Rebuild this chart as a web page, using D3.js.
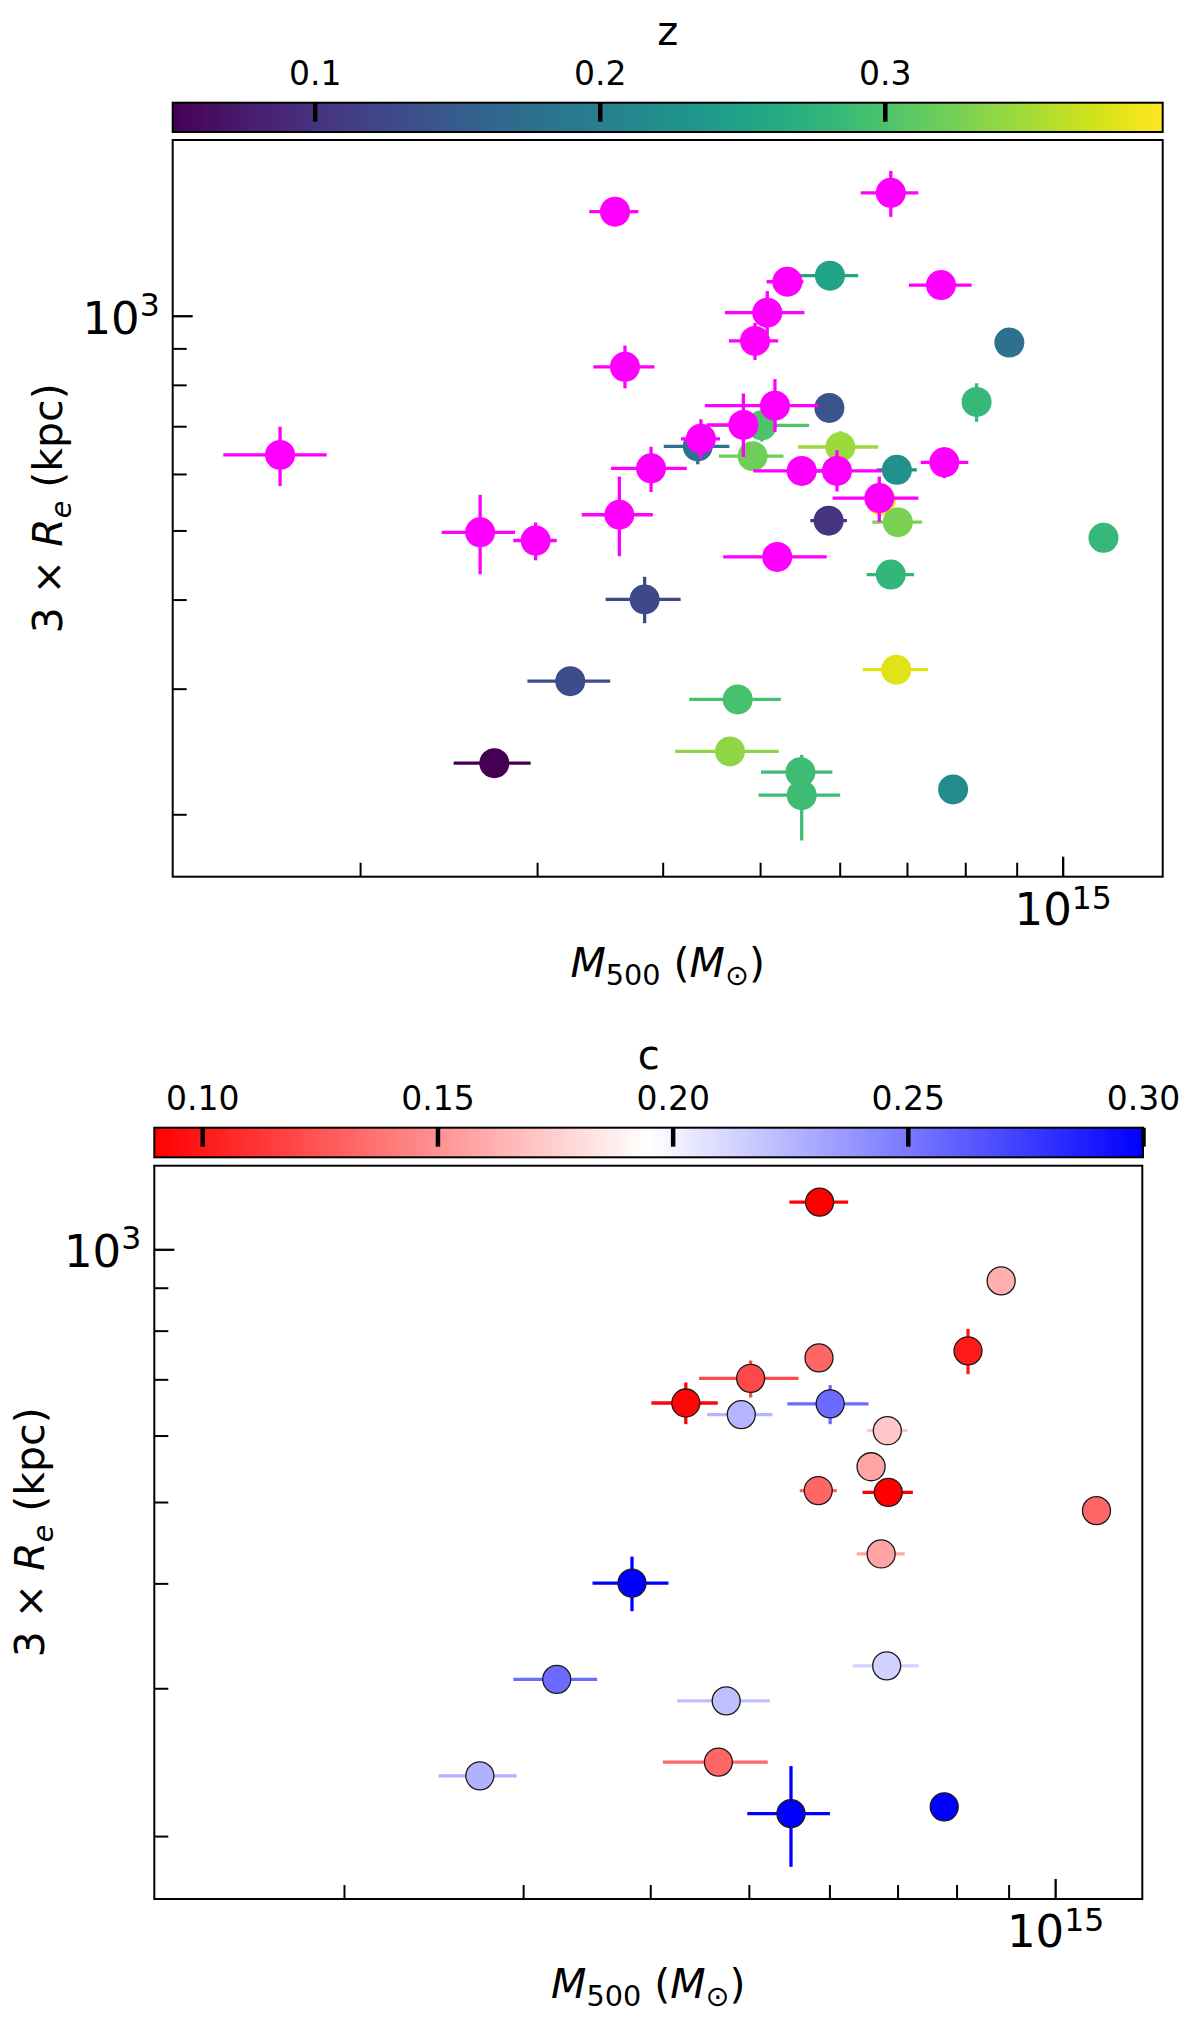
<!DOCTYPE html>
<html><head><meta charset="utf-8">
<script src="https://cdn.jsdelivr.net/npm/d3@7"></script>
<style>
body{margin:0;background:#fff}
svg{display:block}
text{font-family:"DejaVu Sans",sans-serif;fill:#000}
</style>
</head><body>
<svg id="chart" width="1200" height="2029"></svg>
<script>
// ================= DATA =================
// Clusters without a c measurement (magenta, upper panel only). Mass in units of 1e14 Msun, 3*Re in kpc.
const magMass   = [3.586, 3.669, 1.665, 2.633, 2.990, 3.622, 3.895, 6.745, 5.322, 5.083, 4.942, 7.567, 5.173, 4.812, 4.366, 5.50, 5.963, 7.625, 6.570, 5.200];
const magMassLo = [3.381, 3.412, 1.462, 2.411, 2.841, 3.323, 3.553, 6.297, 5.076, 4.613, 4.656, 7.032, 4.406, 4.423, 4.171, 4.923, 5.383, 7.224, 5.903, 4.595];
const magMassHi = [3.783, 3.925, 1.853, 2.852, 3.138, 3.911, 4.227, 7.185, 5.521, 5.534, 5.212, 8.119, 5.714, 4.950, 4.561, 6.145, 6.607, 8.056, 7.185, 5.825];
const magRe     = [1399, 848, 638, 497, 484, 526, 611, 1487, 1116, 1010, 922, 1104, 748, 703, 672, 606, 606, 623, 555, 459];
const magReLo   = [1399, 791, 577, 434, 454, 460, 566, 1376, 1116, 943, 867, 1104, 687, 634, 630, 606, 567, 592, 514, 459];
const magReHi   = [1399, 908, 699, 561, 513, 595, 655, 1596, 1116, 1083, 977, 1104, 815, 778, 716, 606, 648, 654, 595, 459];

// Clusters with redshift z (upper panel) and, where available, c (lower panel)
const colMass   = [5.868, 8.85, 8.21, 5.86, 5.02, 4.335, 4.915, 6.01, 6.84, 6.593, 5.85, 6.855, 10.98, 6.745, 3.838, 3.237, 2.72, 6.83, 4.75, 4.667, 5.50, 7.78, 5.484];
const colMassLo = [5.48, 8.85, 8.21, 5.86, 4.467, 4.01, 4.55, 5.455, 6.53, 6.593, 5.61, 6.466, 10.98, 6.383, 3.51, 2.934, 2.478, 6.326, 4.251, 4.116, 4.982, 7.78, 5.01];
const colMassHi = [6.26, 8.85, 8.21, 5.86, 5.594, 4.66, 5.275, 6.555, 7.16, 6.593, 6.10, 7.247, 10.98, 7.115, 4.168, 3.547, 2.956, 7.344, 5.243, 5.218, 6.007, 7.78, 5.90];
const colRe     = [1138, 917, 757, 742.5, 702, 656, 635.5, 654.6, 608, 550.8, 516, 513.5, 488.3, 433.6, 400.2, 307.4, 235.9, 319, 289.8, 245, 212.7, 216.7, 229.1];
const colReLo   = [1138, 917, 710, 742.5, 666, 619, 635.5, 619, 608, 550.8, 516, 513.5, 488.3, 433.6, 370.6, 307.4, 235.9, 319, 289.8, 245, 183.8, 216.7, 229.1];
const colReHi   = [1138, 917, 804, 742.5, 737, 694, 635.5, 689, 608, 550.8, 516, 513.5, 488.3, 433.6, 430.5, 307.4, 235.9, 319, 289.8, 245, 242.3, 216.7, 229.1];
const colZ      = [0.252, 0.179, 0.283, 0.141, 0.300, 0.179, 0.321, 0.345, 0.224, 0.3975, 0.102, 0.328, 0.283, 0.279, 0.127, 0.130, 0.0502, 0.380, 0.297, 0.338, 0.290, 0.217, 0.290];
const colC      = [0.0898, 0.162, 0.100, 0.132, 0.120, 0.092, 0.226, 0.256, 0.172, 0.158, 0.132, 0.090, 0.132, 0.157, 0.300, 0.256, 0.227, 0.214, 0.221, 0.132, 0.300, 0.300, null];

// Colour-bar ranges and ticks
const zDomain = [0.0502, 0.3975];
const zTicks = [0.1, 0.2, 0.3];
const zTickLabels = ["0.1", "0.2", "0.3"];
const cDomain = [0.0898, 0.30];
const cTicks = [0.10, 0.15, 0.20, 0.25, 0.30];
const cTickLabels = ["0.10", "0.15", "0.20", "0.25", "0.30"];

// Axis ticks (mass in 1e14 Msun, radius in kpc)
const xMinorTicks = [2, 3, 4, 5, 6, 7, 8, 9];
const xMajorTicks = [10];
const xMajorLabels = [["10", "15"]];
const yMinorTicks = [200, 300, 400, 500, 600, 700, 800, 900];
const yMajorTicks = [1000];
const yMajorLabels = [["10", "3"]];

// ================= DRAWING =================
const W = 1200, H = 2029;
const svg = d3.select('#chart');
svg.append('rect').attr('width', W).attr('height', H).attr('fill', '#fff');
const defs = svg.append('defs');

const zColor = d3.scaleSequential(d3.interpolateViridis).domain(zDomain);
const cColor = d3.scaleLinear()
  .domain([cDomain[0], (cDomain[0] + cDomain[1]) / 2, cDomain[1]])
  .range(['#ff0000', '#ffffff', '#0000ff'])
  .interpolate(d3.interpolateRgb);

const magPoints = magMass.map((m, i) => ({m, mLo: magMassLo[i], mHi: magMassHi[i], r: magRe[i], rLo: magReLo[i], rHi: magReHi[i], color: '#ff00ff'}));
const colPoints = colMass.map((m, i) => ({m, mLo: colMassLo[i], mHi: colMassHi[i], r: colRe[i], rLo: colReLo[i], rHi: colReHi[i], z: colZ[i], c: colC[i]}));

const topPoints = colPoints.map(p => Object.assign({}, p, {color: zColor(p.z)})).concat(magPoints);
const botPoints = colPoints.filter(p => p.c !== null).map(p => Object.assign({}, p, {color: cColor(p.c)}));

const panels = [
  {id: 'top', l: 172.7, r: 1162.7, t: 140, b: 876.7, cbT: 102.7, cbB: 132, cbR: 1162.7,
   xDom: [1.302, 12.575], yDom: [163.5, 1763.5], points: topPoints, rad: 15, edge: null,
   cScale: zColor, cDom: zDomain, cTicks: zTicks, cLabels: zTickLabels, cName: 'z',
   cLabelY: 45, yLabelX: 62, xLabelY: 977},
  {id: 'bot', l: 154.3, r: 1142.3, t: 1165.7, b: 1899, cbT: 1127.7, cbB: 1157.3, cbR: 1143,
   xDom: [1.302, 12.18], yDom: [168.3, 1257.7], points: botPoints, rad: 14, edge: '#1a1a1a',
   cScale: cColor, cDom: cDomain, cTicks: cTicks, cLabels: cTickLabels, cName: 'c',
   cLabelY: 1069, yLabelX: 44, xLabelY: 1998}
];

panels.forEach(cfg => {
  const g = svg.append('g');
  const x = d3.scaleLog().domain(cfg.xDom).range([cfg.l, cfg.r]);
  const y = d3.scaleLog().domain(cfg.yDom).range([cfg.b, cfg.t]);

  // points with error bars
  const layer = g.append('g');
  cfg.points.forEach(p => {
    if (p.mLo !== p.mHi) {
      layer.append('line').attr('x1', x(p.mLo)).attr('x2', x(p.mHi))
        .attr('y1', y(p.r)).attr('y2', y(p.r))
        .attr('stroke', p.color).attr('stroke-width', 3.3);
    }
    if (p.rLo !== p.rHi) {
      layer.append('line').attr('x1', x(p.m)).attr('x2', x(p.m))
        .attr('y1', y(p.rLo)).attr('y2', y(p.rHi))
        .attr('stroke', p.color).attr('stroke-width', 3.3);
    }
    const c = layer.append('circle').attr('cx', x(p.m)).attr('cy', y(p.r)).attr('r', cfg.rad).attr('fill', p.color);
    if (cfg.edge) c.attr('stroke', cfg.edge).attr('stroke-width', 1.3);
  });

  // axes (inward ticks)
  const styleAxis = sel => { sel.attr('color', '#000'); sel.select('.domain').remove(); };
  g.append('g').attr('transform', `translate(0,${cfg.b})`)
    .call(d3.axisBottom(x).tickValues(xMinorTicks).tickSize(-14).tickFormat(() => ''))
    .call(styleAxis).selectAll('line').attr('stroke-width', 2);
  const xMaj = g.append('g').attr('transform', `translate(0,${cfg.b})`)
    .call(d3.axisBottom(x).tickValues(xMajorTicks).tickSize(-20).tickFormat(() => ''))
    .call(styleAxis);
  xMaj.selectAll('line').attr('stroke-width', 2.3);
  xMaj.selectAll('.tick text').each(function(d, i) {
    const t = d3.select(this).attr('y', 48.3).attr('dy', 0).attr('font-size', 45)
      .attr('font-family', '"DejaVu Sans", sans-serif').attr('fill', '#000');
    t.append('tspan').text(xMajorLabels[i][0]);
    t.append('tspan').attr('font-size', 31.5).attr('dy', -16).text(xMajorLabels[i][1]);
  });

  g.append('g').attr('transform', `translate(${cfg.l},0)`)
    .call(d3.axisLeft(y).tickValues(yMinorTicks).tickSize(-14).tickFormat(() => ''))
    .call(styleAxis).selectAll('line').attr('stroke-width', 2);
  const yMaj = g.append('g').attr('transform', `translate(${cfg.l},0)`)
    .call(d3.axisLeft(y).tickValues(yMajorTicks).tickSize(-20).tickPadding(13).tickFormat(() => ''))
    .call(styleAxis);
  yMaj.selectAll('line').attr('stroke-width', 2.3);
  yMaj.selectAll('.tick text').each(function(d, i) {
    const t = d3.select(this).attr('dy', 17.5).attr('font-size', 45)
      .attr('font-family', '"DejaVu Sans", sans-serif').attr('fill', '#000');
    t.append('tspan').text(yMajorLabels[i][0]);
    t.append('tspan').attr('font-size', 31.5).attr('dy', -18).text(yMajorLabels[i][1]);
  });

  // frame
  g.append('rect').attr('x', cfg.l).attr('y', cfg.t).attr('width', cfg.r - cfg.l).attr('height', cfg.b - cfg.t)
    .attr('fill', 'none').attr('stroke', '#000').attr('stroke-width', 2);

  // axis labels
  const xl = g.append('text').attr('x', (cfg.l + cfg.r) / 2).attr('y', cfg.xLabelY)
    .attr('text-anchor', 'middle').attr('font-size', 41);
  xl.append('tspan').attr('font-style', 'italic').text('M');
  xl.append('tspan').attr('font-size', 28.7).attr('dy', 8).text('500');
  xl.append('tspan').attr('dy', -8).text(' (');
  xl.append('tspan').attr('font-style', 'italic').text('M');
  xl.append('tspan').attr('font-size', 28.7).attr('dy', 8).text('\u2299');
  xl.append('tspan').attr('dy', -8).text(')');

  const yc = (cfg.t + cfg.b) / 2;
  const yl = g.append('text').attr('transform', `translate(${cfg.yLabelX},${yc}) rotate(-90)`)
    .attr('text-anchor', 'middle').attr('font-size', 41);
  yl.append('tspan').text('3 \u00d7 ');
  yl.append('tspan').attr('font-style', 'italic').text('R');
  yl.append('tspan').attr('font-style', 'italic').attr('font-size', 28.7).attr('dy', 9).text('e');
  yl.append('tspan').attr('dy', -9).text(' (kpc)');

  // colour bar
  const cbx = d3.scaleLinear().domain(cfg.cDom).range([cfg.l, cfg.cbR]);
  const grad = defs.append('linearGradient').attr('id', 'grad-' + cfg.id)
    .attr('x1', 0).attr('x2', 1).attr('y1', 0).attr('y2', 0);
  d3.range(0, 1.0001, 1 / 60).forEach(f => {
    grad.append('stop').attr('offset', f)
      .attr('stop-color', cfg.cScale(cfg.cDom[0] + f * (cfg.cDom[1] - cfg.cDom[0])));
  });
  g.append('rect').attr('x', cfg.l).attr('y', cfg.cbT).attr('width', cfg.cbR - cfg.l).attr('height', cfg.cbB - cfg.cbT)
    .attr('fill', `url(#grad-${cfg.id})`).attr('stroke', '#000').attr('stroke-width', 2);
  const cax = g.append('g').attr('transform', `translate(0,${cfg.cbT})`)
    .call(d3.axisTop(cbx).tickValues(cfg.cTicks).tickSize(-19).tickPadding(17.7)
      .tickFormat((d, i) => cfg.cLabels[i]))
    .call(styleAxis);
  cax.selectAll('line').attr('stroke-width', 4.5);
  cax.selectAll('text').attr('font-size', 33).attr('font-family', '"DejaVu Sans", sans-serif').attr('fill', '#000');
  g.append('text').attr('x', (cfg.l + cfg.cbR) / 2).attr('y', cfg.cLabelY)
    .attr('text-anchor', 'middle').attr('font-size', 40).text(cfg.cName);
});
</script>
</body></html>
